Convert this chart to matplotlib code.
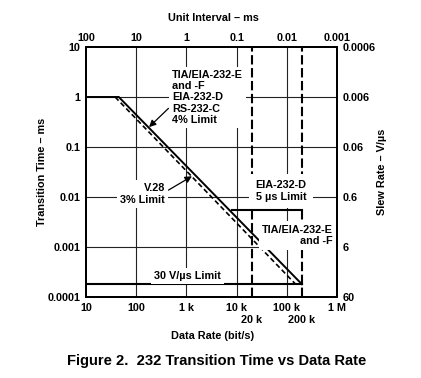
import matplotlib
matplotlib.use("Agg")
import matplotlib.pyplot as plt
from matplotlib.ticker import NullLocator

plt.rcParams['font.family'] = ['Liberation Sans', 'DejaVu Sans']
plt.rcParams['font.weight'] = 'bold'
plt.rcParams['font.size'] = 7.8

# data rate (bit/s) vs transition time (ms)
rate_4pct = [10, 45, 200000]
time_4pct = [1, 1, 0.00018]
rate_3pct = [38, 150000]
time_3pct = [1, 0.00018]
rate_slew = [10, 200000]
time_slew = [0.00018, 0.00018]
rate_5us = [8000, 200000]
time_5us = [0.0055, 0.0055]
rate_marks = [20000, 200000]

x_ticks = [10, 100, 1e3, 1e4, 1e5, 1e6]
x_labels = ['10', '100', '1 k', '10 k', '100 k', '1 M']
x_minor_labels = ['20 k', '200 k']
ui_labels = ['100', '10', '1', '0.1', '0.01', '0.001']
y_ticks = [1e-4, 1e-3, 1e-2, 1e-1, 1, 10]
y_labels = ['0.0001', '0.001', '0.01', '0.1', '1', '10']
slew_labels = ['60', '6', '0.6', '0.06', '0.006', '0.0006']

W, H = 421, 378
fig = plt.figure(figsize=(W / 100, H / 100), dpi=100)
ax = fig.add_axes([86 / W, 1 - 297 / H, 251 / W, 250 / H])

def fx(px):
    return px / W

def fy(py):
    return 1 - py / H

ax.set_xscale('log')
ax.set_yscale('log')
ax.set_xlim(10, 1e6)
ax.set_ylim(1e-4, 10)

for v in x_ticks[1:-1]:
    ax.axvline(v, color='#222222', lw=0.8, zorder=1)
for v in y_ticks[1:-1]:
    ax.axhline(v, color='#222222', lw=0.8, zorder=1)

ax.plot(rate_4pct, time_4pct, color='black', lw=1.4, zorder=3)
ax.plot(rate_3pct, time_3pct, color='black', lw=1.2, dashes=(3, 1.8), zorder=3)
ax.plot(rate_slew, time_slew, color='black', lw=1.5, zorder=3)
ax.plot(rate_5us, time_5us, color='black', lw=1.5, zorder=3)
for v in rate_marks:
    ax.axvline(v, color='black', lw=1.5, dashes=(4.5, 1.7), zorder=3)

ax.set_xticks(x_ticks, x_labels)
ax.set_xticks(rate_marks, x_minor_labels, minor=True)
ax.set_yticks(y_ticks, y_labels)
ax.yaxis.set_minor_locator(NullLocator())
ax.tick_params(which='both', length=0, pad=4)
ax.tick_params(axis='x', which='minor', pad=13)
for s in ax.spines.values():
    s.set_linewidth(1.3)

axt = ax.twiny()
axt.set_xscale('log')
axt.set_xlim(ax.get_xlim())
axt.set_xticks(x_ticks, ui_labels)
axt.xaxis.set_minor_locator(NullLocator())
axt.tick_params(length=0, pad=3)

axr = ax.twinx()
axr.set_yscale('log')
axr.set_ylim(ax.get_ylim())
axr.set_yticks(y_ticks, slew_labels)
axr.yaxis.set_minor_locator(NullLocator())
axr.tick_params(length=0, pad=4)
for a in (axt, axr):
    for s in a.spines.values():
        s.set_linewidth(1.3)

box = dict(facecolor='white', edgecolor='none', pad=2.5)
arrow = dict(arrowstyle='-|>', color='black', lw=0.9, mutation_scale=10,
             shrinkA=0, shrinkB=0)
ax.annotate('TIA/EIA-232-E\nand -F\nEIA-232-D\nRS-232-C\n4% Limit', xy=(180, 0.25),
            xytext=(fx(172), fy(70)), textcoords='figure fraction', ha='left', va='top',
            linespacing=1.15, bbox=box, zorder=5,
            arrowprops=dict(arrow, relpos=(-0.05, 0.3)))
ax.annotate('V.28\n3% Limit', xy=(1290, 0.026),
            xytext=(fx(165), fy(194)), textcoords='figure fraction', ha='right', va='center',
            linespacing=1.15, bbox=box, zorder=5,
            arrowprops=dict(arrow, relpos=(1.05, 0.65)))
ax.annotate('TIA/EIA-232-E\nand -F', xy=(29000, 0.0015),
            xytext=(fx(333), fy(235.5)), textcoords='figure fraction', ha='right', va='center',
            linespacing=1.15, bbox=box, zorder=5,
            arrowprops=dict(arrow, relpos=(0.08, 0.6)))
fig.text(fx(281), fy(191), 'EIA-232-D\n5 µs Limit', ha='center', va='center',
         linespacing=1.15, bbox=dict(box, pad=4.5), zorder=5)
fig.text(fx(187.5), fy(276), '30 V/µs Limit', ha='center', va='center', bbox=box, zorder=5)

fig.text(fx(213), fy(18), 'Unit Interval – ms', ha='center', va='center')
fig.text(fx(213), fy(336), 'Data Rate (bit/s)', ha='center', va='center')
fig.text(fx(42), fy(172), 'Transition Time – ms', ha='center', va='center', rotation=90)
fig.text(fx(382), fy(172), 'Slew Rate – V/µs', ha='center', va='center', rotation=90)
fig.text(fx(217), fy(361), 'Figure 2.  232 Transition Time vs Data Rate',
         ha='center', va='center', fontsize=10.6)

fig.savefig('out.png', dpi=100)
